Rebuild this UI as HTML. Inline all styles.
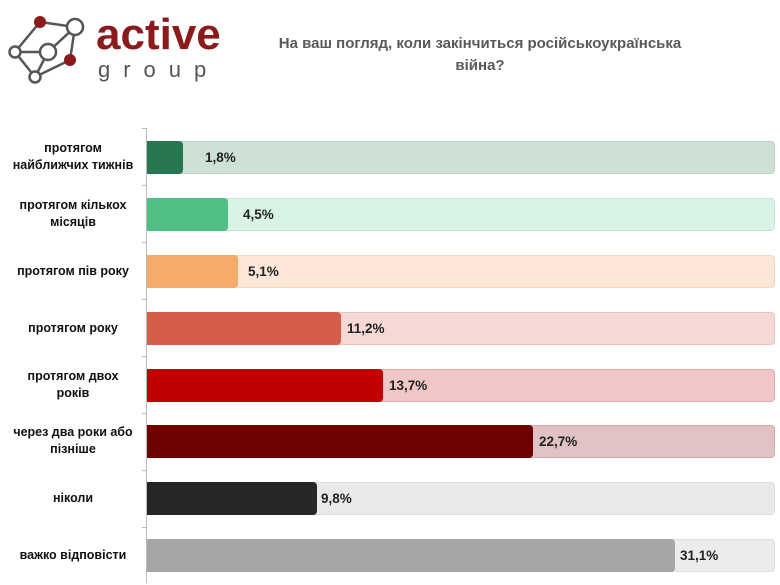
<!DOCTYPE html>
<html><head><meta charset="utf-8"><style>
body{margin:0;width:780px;height:585px;background:#fff;position:relative;overflow:hidden;font-family:"Liberation Sans","DejaVu Sans",sans-serif}
.t{position:absolute;left:250px;width:460px;top:33px;text-align:center;color:#595959;font-weight:bold;font-size:15px;line-height:22px}
.lab{position:absolute;left:0;width:146px;text-align:center;font-weight:bold;font-size:12.5px;line-height:17px;color:#111}
.tr{position:absolute;left:147px;width:628px;height:33px;border-radius:4px;box-sizing:border-box}
.b{position:absolute;left:147px;height:33px;border-radius:0 4px 4px 0}
.v{position:absolute;font-weight:bold;font-size:13.5px;color:#222;line-height:33px}
.ax{position:absolute;left:146px;top:128px;width:1px;height:455px;background:#bbb}
.tk{position:absolute;left:142px;width:5px;height:1px;background:#bbb}
</style></head><body>
<svg style="position:absolute;left:0;top:0" width="240" height="90">
<g stroke="#555" stroke-width="2.5" fill="none">
<polyline points="40,22 75,27 70,60 35,77 15,52 40,22"/>
<line x1="15" y1="52" x2="48" y2="52"/><line x1="48" y1="52" x2="75" y2="27"/><line x1="48" y1="52" x2="35" y2="77"/>
</g>
<circle cx="40" cy="22" r="6" fill="#8b1a1a"/>
<circle cx="75" cy="27" r="8" fill="#fff" stroke="#555" stroke-width="2.5"/>
<circle cx="48" cy="52" r="8" fill="#fff" stroke="#555" stroke-width="2.5"/>
<circle cx="15" cy="52" r="5.5" fill="#fff" stroke="#555" stroke-width="2.5"/>
<circle cx="70" cy="60" r="6" fill="#8b1a1a"/>
<circle cx="35" cy="77" r="5.5" fill="#fff" stroke="#555" stroke-width="2.5"/>
<text x="96" y="49" font-family="Liberation Sans" font-weight="bold" font-size="44" fill="#8b1a1a">active</text>
<text x="98" y="77" font-family="Liberation Sans" font-size="22" fill="#555" letter-spacing="13">group</text>
</svg>
<div class="t">На ваш погляд, коли закінчиться російськоукраїнська<br>війна?</div>
<div class="ax"></div>

<div class="tr" style="top:141px;background:#cfe1d7;border:1px solid #b8d2c4"></div><div class="b" style="top:141px;width:36px;background:#27774f"></div><div class="v" style="top:141px;left:205px">1,8%</div>
<div class="lab" style="top:140px">протягом<br>найближчих тижнів</div>

<div class="tr" style="top:198px;background:#d9f3e5;border:1px solid #c3e9d3"></div><div class="b" style="top:198px;width:81px;background:#4fbf86"></div><div class="v" style="top:198px;left:243px">4,5%</div>
<div class="lab" style="top:197px">протягом кількох<br>місяців</div>

<div class="tr" style="top:255px;background:#fde7d8;border:1px solid #f8d6c0"></div><div class="b" style="top:255px;width:91px;background:#f4aa68"></div><div class="v" style="top:255px;left:248px">5,1%</div>
<div class="lab" style="top:263px">протягом пів року</div>

<div class="tr" style="top:312px;background:#f6d8d5;border:1px solid #ecc3bf"></div><div class="b" style="top:312px;width:194px;background:#d55e4b"></div><div class="v" style="top:312px;left:347px">11,2%</div>
<div class="lab" style="top:320px">протягом року</div>

<div class="tr" style="top:369px;background:#f1c6c7;border:1px solid #e3a9ab"></div><div class="b" style="top:369px;width:236px;background:#c00000"></div><div class="v" style="top:369px;left:389px">13,7%</div>
<div class="lab" style="top:368px">протягом двох<br>років</div>

<div class="tr" style="top:425px;background:#e0c2c2;border:1px solid #d2a8a8"></div><div class="b" style="top:425px;width:386px;background:#6e0000"></div><div class="v" style="top:425px;left:539px">22,7%</div>
<div class="lab" style="top:424px">через два роки або<br>пізніше</div>

<div class="tr" style="top:482px;background:#e9e9e9;border:1px solid #dedede"></div><div class="b" style="top:482px;width:170px;background:#262626"></div><div class="v" style="top:482px;left:321px">9,8%</div>
<div class="lab" style="top:490px">ніколи</div>

<div class="tr" style="top:539px;background:#ececec;border:1px solid #e0e0e0"></div><div class="b" style="top:539px;width:528px;background:#a6a6a6"></div><div class="v" style="top:539px;left:680px">31,1%</div>
<div class="lab" style="top:547px">важко відповісти</div>

<div class="tk" style="top:128px"></div><div class="tk" style="top:185px"></div><div class="tk" style="top:242px"></div><div class="tk" style="top:299px"></div><div class="tk" style="top:356px"></div><div class="tk" style="top:413px"></div><div class="tk" style="top:470px"></div><div class="tk" style="top:527px"></div>
</body></html>
